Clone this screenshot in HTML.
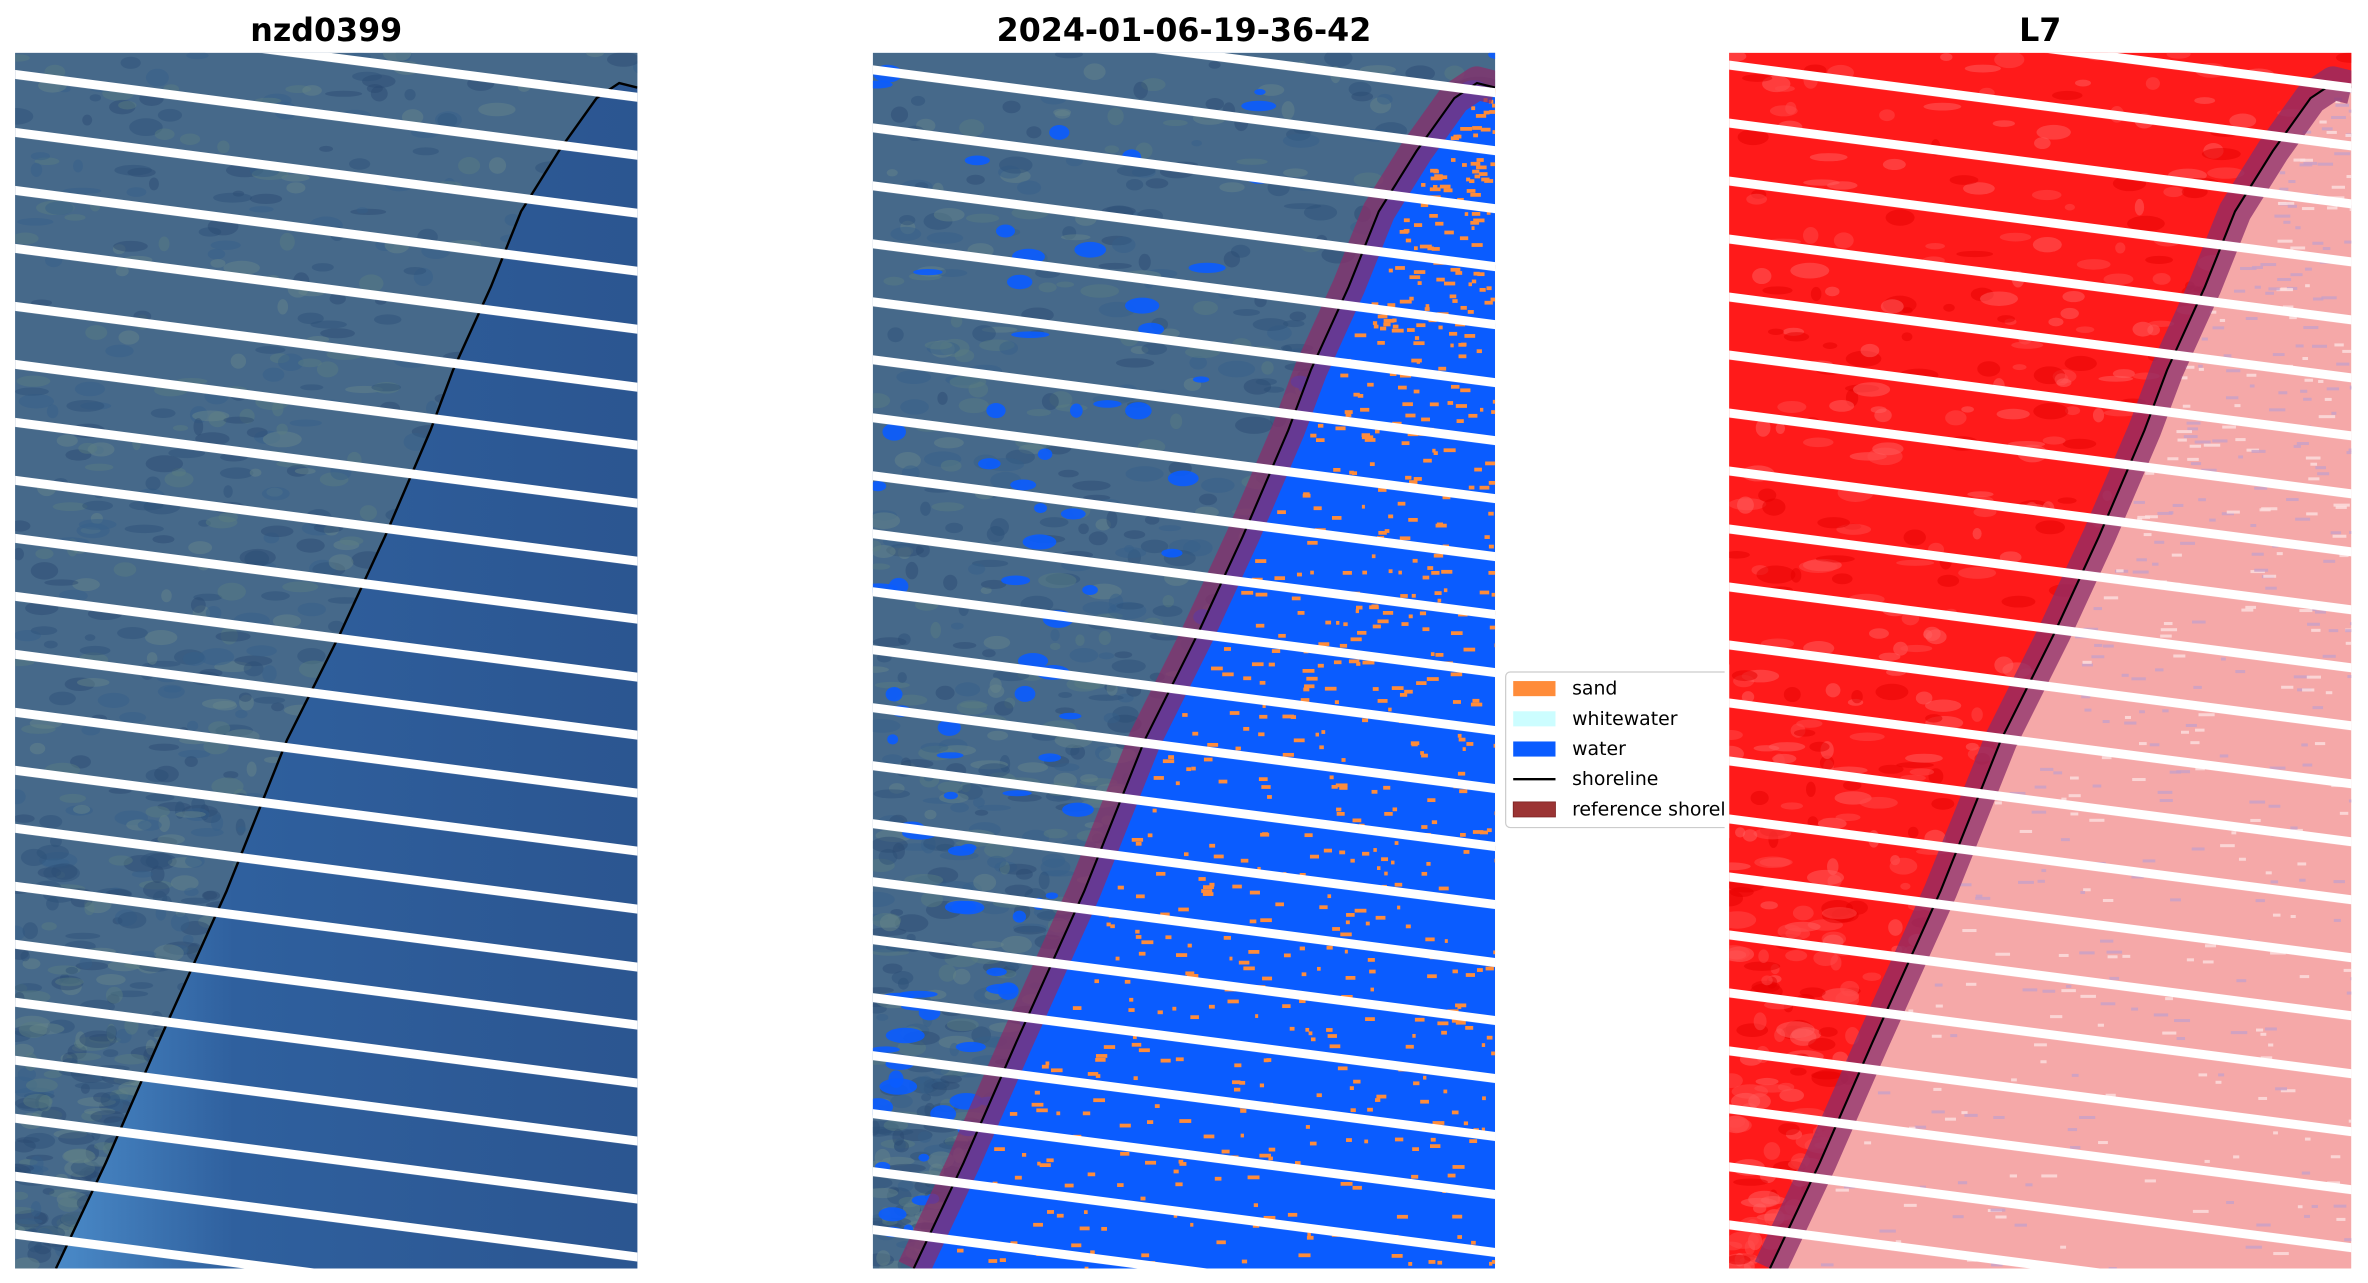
<!DOCTYPE html>
<html><head><meta charset="utf-8"><style>
html,body{margin:0;padding:0;background:#fff;}
svg{display:block;font-family:"DejaVu Sans","Liberation Sans",sans-serif;}
</style></head><body>
<svg id="s" width="2368" height="1283" viewBox="0 0 1568 849.6" xmlns="http://www.w3.org/2000/svg">
<defs>
<pattern id="st" patternUnits="userSpaceOnUse" width="3000" height="38.4" patternTransform="translate(0,45) skewY(7.4)">
<rect x="0" y="0" width="3000" height="6" fill="#fff"/>
</pattern>
<linearGradient id="oc" x1="0" y1="0" x2="1" y2="0">
<stop offset="0" stop-color="#4a8ac8"/><stop offset="0.3" stop-color="#2f609e"/><stop offset="1" stop-color="#2b5590"/>
</linearGradient>
<clipPath id="c1"><rect x="10" y="35" width="412" height="805"/></clipPath>
<clipPath id="c2"><rect x="578" y="35" width="412" height="805"/></clipPath>
<clipPath id="c3"><rect x="1145" y="35" width="412" height="805"/></clipPath>
</defs>
<text x="216" y="27" font-size="21" font-weight="bold" text-anchor="middle">nzd0399</text>
<text x="784" y="27" font-size="21" font-weight="bold" text-anchor="middle">2024-01-06-19-36-42</text>
<text x="1351" y="27" font-size="21" font-weight="bold" text-anchor="middle">L7</text>

<g>
<rect x="997" y="445" width="170" height="103" rx="3" fill="#fff" stroke="#ccc" stroke-width="0.8"/>
<rect x="1002" y="451" width="28" height="10" fill="#ff8c3a"/>
<text x="1041" y="460" font-size="12.5">sand</text>
<rect x="1002" y="471" width="28" height="10" fill="#ccfdff"/>
<text x="1041" y="480" font-size="12.5">whitewater</text>
<rect x="1002" y="491" width="28" height="10" fill="#0a5cff"/>
<text x="1041" y="500" font-size="12.5">water</text>
<line x1="1002" y1="516" x2="1030" y2="516" stroke="#000" stroke-width="1.6"/>
<text x="1041" y="520" font-size="12.5">shoreline</text>
<rect x="1002" y="531" width="28" height="10" fill="#9b3434" stroke="#7a2020" stroke-width="0.5"/>
<text x="1041" y="540" font-size="12.5">reference shoreline</text>
</g>
<g id="panels"></g>
</svg>
<script>
var pts=[[37,840],[70,770],[105,690],[150,590],[190,490],[225,420],[255,355],[285,285],[300,245],[325,190],[345,140],[370,100],[395,65],[410,55],[422,58]];
function sh(dx){return pts.map(function(p){return (p[0]+dx)+","+p[1]}).join(" ");}
function shr(dx){return pts.slice().reverse().map(function(p){return (p[0]+dx)+","+p[1]}).join(" ");}
function land(dx){return (dx+5)+",30 "+(dx+430)+",30 "+shr(dx)+" "+(dx+5)+",845";}
function sea(dx){return sh(dx)+" "+(dx+430)+",58 "+(dx+430)+",845";}
var seed=7;function r(){seed=(seed*16807)%2147483647;return seed/2147483647;}
function xs(y){for(var i=0;i<pts.length-1;i++){var a=pts[i],b=pts[i+1];if(y<=a[1]&&y>=b[1]){return a[0]+(b[0]-a[0])*(a[1]-y)/(a[1]-b[1]);}}return 422;}
var h='';
function texture(dx,cols,n,op){var s='';for(var i=0;i<n;i++){var y=35+r()*805;var x=dx+10+r()*(xs(y)-5);s+='<ellipse cx="'+x.toFixed(1)+'" cy="'+y.toFixed(1)+'" rx="'+(3+r()*10).toFixed(1)+'" ry="'+(2+r()*4).toFixed(1)+'" fill="'+cols[Math.floor(r()*cols.length)]+'" opacity="'+op+'"/>';}return s;}
var lc=['#2d4f78','#5a7f80','#35608a','#68888a','#2a4a70'];
// panel1
h+='<g clip-path="url(#c1)"><rect x="10" y="35" width="412" height="805" fill="#2c5792"/>';
h+='<polygon points="'+sea(0)+'" fill="url(#oc)"/>';
h+='<polygon points="'+land(0)+'" fill="#46698a"/>';
h+='<clipPath id="l1"><polygon points="'+land(0)+'"/></clipPath><g clip-path="url(#l1)">'+texture(0,lc,600,0.45)+'</g>';
h+='<polyline points="'+sh(0)+'" fill="none" stroke="#000" stroke-width="1.6"/>';
h+='<rect x="0" y="0" width="1568" height="850" fill="url(#st)"/></g>';
// panel2
h+='<g clip-path="url(#c2)"><rect x="578" y="35" width="412" height="805" fill="#0a5cff"/>';
h+='<polygon points="'+land(568)+'" fill="#46698a"/>';
h+='<clipPath id="l2"><polygon points="'+land(568)+'"/></clipPath><g clip-path="url(#l2)">'+texture(568,lc,600,0.45)+texture(568,['#0a5cff'],90,0.9)+'</g>';
var b='';for(var i=0;i<800;i++){var y=35+r()*805;var x0=xs(y);var x=568+x0+15+r()*(422-x0);b+='<rect x="'+x.toFixed(1)+'" y="'+y.toFixed(1)+'" width="'+(2+r()*6).toFixed(1)+'" height="2.5" fill="#ff8c3a"/>';}
h+=b;
h+='<polyline points="'+sh(568)+'" fill="none" stroke="#8b2d6a" stroke-opacity="0.72" stroke-width="22" stroke-linejoin="round"/>';
h+='<polyline points="'+sh(568)+'" fill="none" stroke="#000" stroke-width="1.4"/>';
h+='<rect x="0" y="0" width="1568" height="850" fill="url(#st)"/></g>';
// panel3
h+='<g clip-path="url(#c3)"><rect x="1145" y="35" width="412" height="805" fill="#f5a8a8"/>';
h+='<polygon points="'+land(1135)+'" fill="#ff1a1a"/>';
var t='';for(var i=0;i<500;i++){var y=35+r()*805;var x0=xs(y);var x=1135+x0+10+r()*(422-x0);t+='<rect x="'+x.toFixed(1)+'" y="'+y.toFixed(1)+'" width="'+(3+r()*8).toFixed(1)+'" height="2" fill="'+(r()<0.5?'#fde0e0':'#c8a0c8')+'" opacity="0.8"/>';}
h+=t;
h+='<clipPath id="l3"><polygon points="'+land(1135)+'"/></clipPath><g clip-path="url(#l3)">'+texture(1135,['#ff4a4a','#ff6060','#e60000'],400,0.5)+'</g>';
h+='<polyline points="'+sh(1135)+'" fill="none" stroke="#8b2d6a" stroke-opacity="0.75" stroke-width="22" stroke-linejoin="round"/>';
h+='<polyline points="'+sh(1135)+'" fill="none" stroke="#000" stroke-width="1.4"/>';
h+='<rect x="0" y="0" width="1568" height="850" fill="url(#st)"/></g>';
h+='<rect x="1142" y="440" width="3" height="115" fill="#fff"/>';
document.getElementById('panels').innerHTML=h;
</script>
</body></html>
